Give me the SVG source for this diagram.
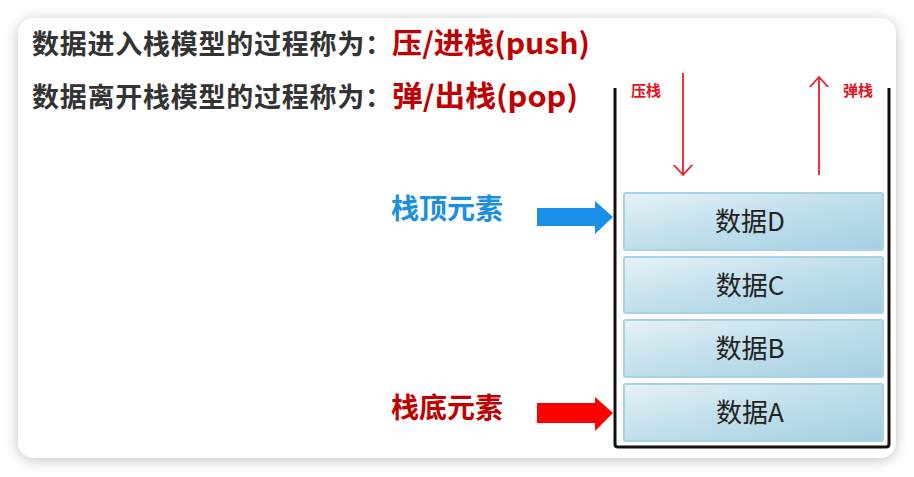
<svg xmlns="http://www.w3.org/2000/svg" width="914" height="477" viewBox="0 0 914 477">
<defs>
<filter id="shadow" x="-10%" y="-10%" width="120%" height="120%">
<feGaussianBlur in="SourceAlpha" stdDeviation="7"/>
<feOffset dx="0" dy="2" result="b"/>
<feComponentTransfer><feFuncA type="linear" slope="0.25"/></feComponentTransfer>
<feMerge><feMergeNode/><feMergeNode in="SourceGraphic"/></feMerge>
</filter>
<linearGradient id="boxg" x1="0" y1="0" x2="1" y2="1">
<stop offset="0" stop-color="#e6f2f8"/>
<stop offset="0.45" stop-color="#c3e0ec"/>
<stop offset="1" stop-color="#a3cfe2"/>
</linearGradient>
<marker id="ah" viewBox="0 0 20 20" refX="10" refY="10" markerWidth="20" markerHeight="20" markerUnits="userSpaceOnUse" orient="auto">
<path d="M-1,0 L10,10 L-1,20" fill="none" stroke="#ee1c25" stroke-width="1.8"/>
</marker>
<style>
.hd{font-family:"Noto Sans CJK SC","Noto Sans",sans-serif;font-weight:bold;font-size:27px;fill:#333}
.rd{fill:#c00000;font-size:29px}
.lab{font-family:"Noto Sans CJK SC",sans-serif;font-weight:bold;font-size:28px}
.small{font-family:"Noto Sans CJK SC",sans-serif;font-weight:bold;font-size:15px;fill:#e8101c}
.box{fill:url(#boxg);stroke:#a9d2e3;stroke-width:2}
.bt{font-family:"Noto Sans CJK SC","Noto Sans",sans-serif;font-size:26px;fill:#222;text-anchor:middle}
.thin{stroke:#ee1c25;stroke-width:1.8;fill:none}
</style>
</defs>
<rect width="914" height="477" fill="#ffffff"/>
<rect x="18" y="18" width="878" height="440" rx="16" fill="#ffffff" filter="url(#shadow)"/>

<g id="header1">
<text class="hd" x="32" y="54" textLength="360" lengthAdjust="spacing">数据进入栈模型的过程称为：</text>
<text class="hd rd" x="392" y="54" textLength="198" lengthAdjust="spacingAndGlyphs">压/进栈(push)</text>
</g>
<g id="header2">
<text class="hd" x="32" y="107" textLength="360" lengthAdjust="spacing">数据离开栈模型的过程称为：</text>
<text class="hd rd" x="392" y="107" textLength="186" lengthAdjust="spacingAndGlyphs">弹/出栈(pop)</text>
</g>

<g id="stack">
<path d="M615,88 L615,444 Q615,447 618,447 L886,447 Q889,447 889,444 L889,88" fill="none" stroke="#111" stroke-width="3"/>
</g>

<g id="nodeD"><rect class="box" x="624" y="193" width="259" height="57" rx="2"/><text class="bt" x="750" y="231">数据D</text></g>
<g id="nodeC"><rect class="box" x="624" y="257" width="259" height="56" rx="2"/><text class="bt" x="750" y="295">数据C</text></g>
<g id="nodeB"><rect class="box" x="624" y="320" width="259" height="57" rx="2"/><text class="bt" x="750" y="358">数据B</text></g>
<g id="nodeA"><rect class="box" x="624" y="384" width="259" height="57" rx="2"/><text class="bt" x="750" y="422">数据A</text></g>

<g id="topLabel"><text class="lab" x="391" y="219" fill="#1a8fe3">栈顶元素</text></g>
<g id="bottomLabel"><text class="lab" x="391" y="418" fill="#c00000">栈底元素</text></g>
<g id="pushLabel"><text class="small" x="631" y="96">压栈</text></g>
<g id="popLabel"><text class="small" x="843" y="96">弹栈</text></g>

<g id="connectors">
<polygon points="537,208 595,208 595,201 613,217 595,234 595,226 537,226" fill="#1a8fe8"/>
<polygon points="537,403 595,403 595,397 613,413 595,431 595,423 537,423" fill="#ff0000"/>
<path class="thin" d="M683,73 L683,175" marker-end="url(#ah)"/>
<path class="thin" d="M819,175 L819,77" marker-end="url(#ah)"/>
</g>
</svg>
